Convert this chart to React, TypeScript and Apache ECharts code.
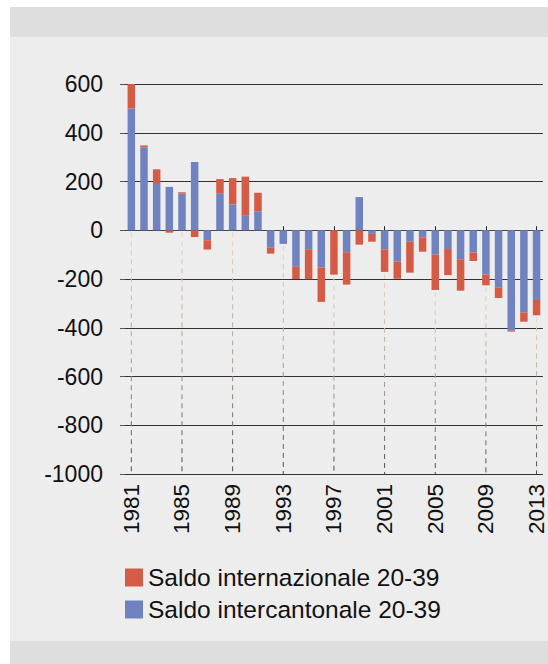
import React, { useEffect, useRef } from "react";
import * as echarts from "echarts";

const years = [
  "1981", "1982", "1983", "1984", "1985", "1986", "1987", "1988", "1989", "1990",
  "1991", "1992", "1993", "1994", "1995", "1996", "1997", "1998", "1999", "2000",
  "2001", "2002", "2003", "2004", "2005", "2006", "2007", "2008", "2009", "2010",
  "2011", "2012", "2013",
];

const intercantonale = [
  500, 340, 190, 178, 150, 280, -41, 152, 106, 62,
  78, -72, -56, -150, -78, -152, 0, -90, 136, -15,
  -78, -129, -47, -29, -100, -77, -119, -92, -182, -234,
  -412, -337, -286,
];

const internazionale = [
  100, 8, 60, -10, 6, -28, -38, 58, 108, 158,
  76, -24, 0, -50, -123, -142, -182, -133, -59, -32,
  -93, -70, -127, -59, -145, -107, -129, -34, -44, -44,
  -4, -38, -63,
];

const yTicks = [600, 400, 200, 0, -200, -400, -600, -800, -1000];
const nameInt = "Saldo internazionale 20-39";
const nameCant = "Saldo intercantonale 20-39";

const RED = "#d65b47";
const BLUE = "#7082bf";
const FONT = "Liberation Sans, Arial, Helvetica, sans-serif";

export default function App() {
  const ref = useRef<HTMLDivElement>(null);

  useEffect(() => {
    if (!ref.current) return;
    const chart = echarts.init(ref.current, undefined, { renderer: "svg" });
    const yMin = yTicks[yTicks.length - 1];
    const yMax = yTicks[0];

    // drop lines every 4th year, from bar bottom (or 0) down to axis minimum
    const dropData: number[][] = [];
    years.forEach((_, i) => {
      if (i % 4 === 0) {
        const neg = Math.min(0, intercantonale[i]) + Math.min(0, internazionale[i]);
        dropData.push([i, neg]);
      }
    });

    chart.setOption({
      animation: false,
      backgroundColor: "transparent",
      grid: { left: 125, right: 1, top: 84, bottom: 190, containLabel: false },
      legend: {
        data: [nameInt, nameCant],
        orient: "vertical",
        left: 125,
        top: 565,
        padding: 0,
        itemWidth: 18,
        itemHeight: 18,
        itemGap: 7,
        icon: "rect",
        textStyle: { fontFamily: FONT, fontSize: 24.5, color: "#111" },
      },
      xAxis: {
        type: "category",
        data: years,
        axisLine: { show: true, lineStyle: { color: "#444", width: 1 } },
        axisTick: { show: true, inside: true, length: 4, interval: 3, alignWithLabel: true, lineStyle: { color: "#222" } },
        axisLabel: {
          interval: 3,
          rotate: 90,
          margin: 10,
          fontFamily: FONT,
          fontSize: 22.5,
          color: "#111",
        },
        splitLine: { show: false },
      },
      yAxis: {
        type: "value",
        min: yMin,
        max: yMax,
        interval: 200,
        axisLine: { show: false },
        axisTick: { show: true, inside: false, length: 5, lineStyle: { color: "#555" } },
        axisLabel: {
          margin: 22,
          fontFamily: FONT,
          fontSize: 23,
          color: "#111",
          formatter: (v: number) => String(v),
        },
        splitLine: { show: true, lineStyle: { color: "#333", width: 1 } },
      },
      series: [
        {
          name: nameCant,
          type: "bar",
          stack: "total",
          data: intercantonale,
          barWidth: 7.5,
          itemStyle: { color: BLUE },
          z: 3,
        },
        {
          name: nameInt,
          type: "bar",
          stack: "total",
          data: internazionale,
          barWidth: 7.5,
          itemStyle: { color: RED },
          z: 3,
        },
        {
          name: "drop",
          type: "custom",
          silent: true,
          z: 1,
          data: dropData,
          renderItem: (params: any, api: any) => {
            const x = api.value(0);
            const v = api.value(1);
            const p1 = api.coord([x, v]);
            const p2 = api.coord([x, yMin]);
            return {
              type: "line",
              shape: { x1: p1[0], y1: p1[1] + 2, x2: p2[0], y2: p2[1] },
              style: {
                stroke: new echarts.graphic.LinearGradient(
                  0, p1[1], 0, p2[1],
                  [
                    { offset: 0, color: "#e8d6c2" },
                    { offset: 0.5, color: "#aaa39c" },
                    { offset: 1, color: "#4a4a4a" },
                  ],
                  true
                ),
                lineWidth: 1,
                lineDash: [5, 4],
              },
            };
          },
        },
      ],
    });

    return () => chart.dispose();
  }, []);

  return (
    <div style={{ position: "fixed", left: 0, top: 0, width: 548, height: 664, background: "#ffffff" }}>
      <div style={{ position: "absolute", left: 10, top: 7, width: 538, height: 30, background: "#dedede" }} />
      <div style={{ position: "absolute", left: 10, top: 37, width: 538, height: 604, background: "#ededed" }} />
      <div style={{ position: "absolute", left: 10, top: 641, width: 538, height: 23, background: "#dedede" }} />
      <div ref={ref} style={{ position: "absolute", left: 0, top: 0, width: 548, height: 664 }} />
    </div>
  );
}
